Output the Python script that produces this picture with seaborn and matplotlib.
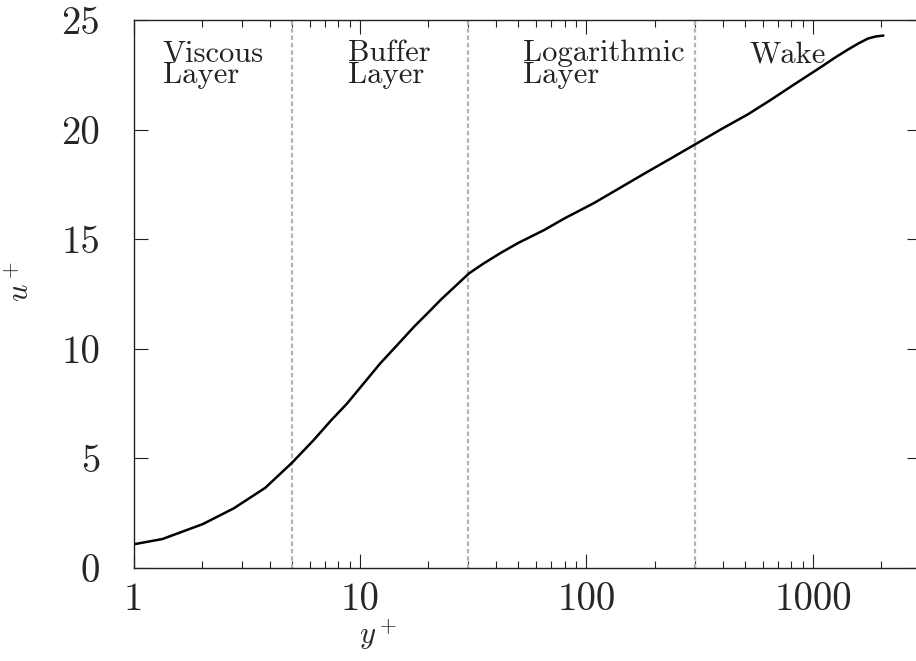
import matplotlib
matplotlib.use("Agg")
import matplotlib.pyplot as plt
import seaborn as sns
import numpy as np
from matplotlib.ticker import LogLocator, NullFormatter, FixedLocator, FixedFormatter

# ---- data ----
y_plus = [1.0, 1.34, 2.02, 2.77, 3.82, 5.01, 6.25, 7.4, 8.78, 10.4, 12.3, 14.6,
          17.3, 20.0, 22.7, 26.0, 30.3, 35.0, 41.9, 50.0, 65.1, 80.0, 108, 140,
          180, 230, 300, 400, 517, 650, 804, 1091, 1250, 1432, 1600, 1755, 1900, 2046]
u_plus = [1.08, 1.32, 2.0, 2.72, 3.66, 4.80, 5.84, 6.70, 7.51, 8.43, 9.34, 10.17,
          11.0, 11.65, 12.23, 12.80, 13.44, 13.88, 14.38, 14.83, 15.42, 15.95, 16.65, 17.33,
          17.99, 18.62, 19.31, 20.06, 20.70, 21.35, 21.98, 22.87, 23.28, 23.66, 23.95, 24.16, 24.25, 24.29]

region_bounds = [5, 30, 300]
region_labels = ["Viscous\nLayer", "Buffer\nLayer", "Logarithmic\nLayer", "Wake"]
region_label_x = [1.346, 8.83, 52.7, 525]
region_label_y = [22.13, 22.13, 22.13, 23.08]

x_ticks = [1, 10, 100, 1000]
x_tick_labels = ["1", "10", "100", "1000"]
y_ticks = [0, 5, 10, 15, 20, 25]
y_tick_labels = ["0", "5", "10", "15", "20", "25"]

# ---- style ----
sns.set_style("white")
plt.rcParams["font.family"] = ["cmr10", "DejaVu Serif"]
plt.rcParams["mathtext.fontset"] = "cm"
plt.rcParams["axes.unicode_minus"] = False
plt.rcParams["axes.formatter.use_mathtext"] = True

fig = plt.figure(figsize=(9.16, 6.61), dpi=100)
W, H = 916, 661
left, right, top, bottom = 133.5, 921, 20, 568
ax = fig.add_axes([left / W, (H - bottom) / H, (right - left) / W, (bottom - top) / H])

for xb in region_bounds:
    ax.axvline(xb, color="#b4b4b4", lw=1.6, linestyle=(0, (2, 1.3)), zorder=1)

sns.lineplot(x=y_plus, y=u_plus, ax=ax, color="black", lw=1.8, sort=True,
             estimator=None, zorder=3)

ax.set_xscale("log")
ax.set_xlim(1, 3000)
ax.set_ylim(0, 25)

ax.xaxis.set_major_locator(FixedLocator(x_ticks))
ax.xaxis.set_major_formatter(FixedFormatter(x_tick_labels))
ax.xaxis.set_minor_locator(LogLocator(base=10, subs=np.arange(2, 10), numticks=20))
ax.xaxis.set_minor_formatter(NullFormatter())
ax.yaxis.set_major_locator(FixedLocator(y_ticks))
ax.yaxis.set_major_formatter(FixedFormatter(y_tick_labels))

ax.tick_params(axis="both", which="both", direction="in", top=True, right=True,
               bottom=True, left=True, color="#222222")
ax.tick_params(axis="both", which="major", length=10, width=0.8, labelsize=28)
ax.tick_params(axis="x", which="minor", length=5, width=0.8)
ax.tick_params(axis="x", which="major", pad=10)
ax.tick_params(axis="y", which="major", pad=24)

for s in ax.spines.values():
    s.set_linewidth(1.0)
    s.set_color("#222222")

for lab, xx, yy in zip(region_labels, region_label_x, region_label_y):
    ax.text(xx, yy, lab, fontsize=22, ha="left", va="baseline",
            linespacing=0.74, color="#222222", zorder=4)

ax.set_xlabel(r"$y^+$", fontsize=22)
ax.set_ylabel(r"$u^+$", fontsize=22)
ax.xaxis.set_label_coords((378 - left) / (right - left), -(617 - bottom) / (bottom - top))
ax.yaxis.set_label_coords((35 - left) / (right - left), (bottom - 282) / (bottom - top))

fig.savefig("out.png", dpi=100)
